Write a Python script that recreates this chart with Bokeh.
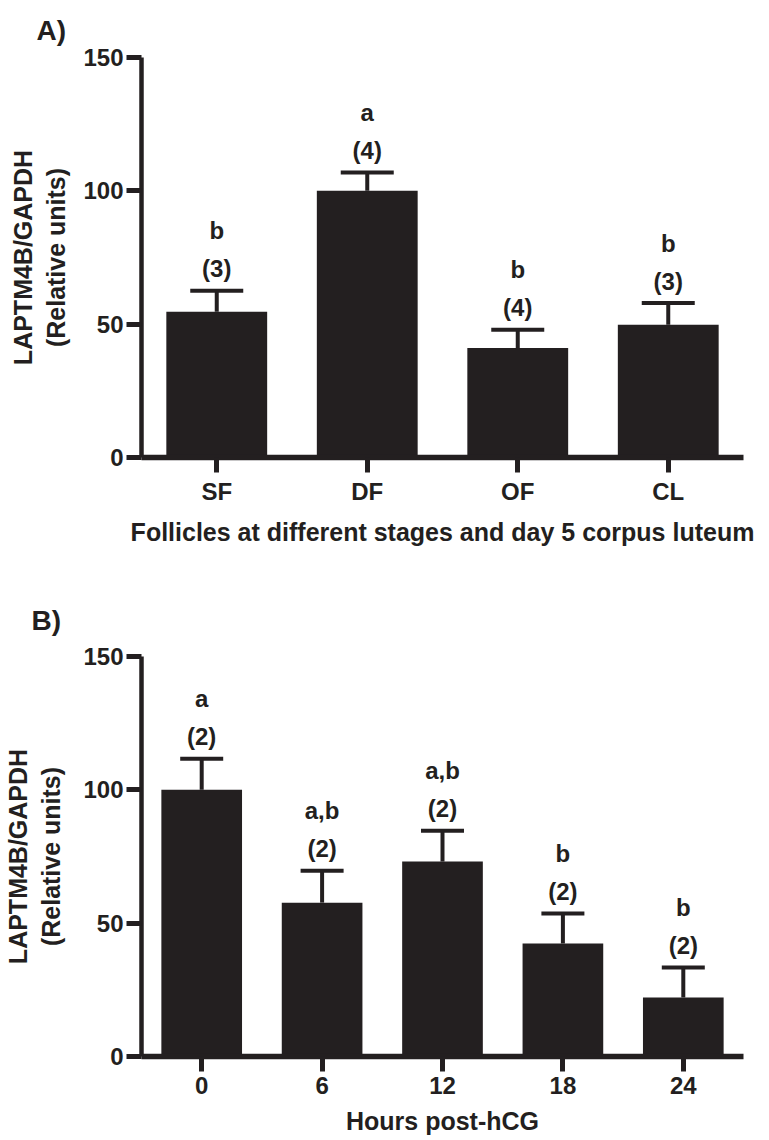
from bokeh.plotting import figure
from bokeh.models import ColumnDataSource, Range1d, FactorRange, Whisker, TeeHead, Title
from bokeh.layouts import column
from bokeh.core.properties import value
from bokeh.embed import file_html
from bokeh.resources import INLINE

INK = "#231f20"
FONT = "Liberation Sans"

# Panel A data
stages = ["SF", "DF", "OF", "CL"]
stage_mean = [54.7, 100.0, 41.1, 49.8]
stage_upper = [62.5, 106.9, 47.9, 57.9]
stage_n = ["(3)", "(4)", "(4)", "(3)"]
stage_sig = ["b", "a", "b", "b"]

# Panel B data
hours = ["0", "6", "12", "18", "24"]
hour_mean = [100.0, 57.7, 73.1, 42.4, 22.1]
hour_upper = [111.7, 69.7, 84.7, 53.6, 33.4]
hour_n = ["(2)", "(2)", "(2)", "(2)", "(2)"]
hour_sig = ["a", "a,b", "a,b", "b", "b"]

y_ticks = [0, 50, 100, 150]
y_label = "LAPTM4B/GAPDH\n(Relative units)"


def make_panel(cats, means, uppers, ns, sigs, xlabel, tag, right, top, bottom,
               cap, ylab_standoff, tag_offset, tag_standoff):
    src = ColumnDataSource(dict(x=cats, top=means, upper=uppers, n=ns, sig=sigs))
    p = figure(x_range=FactorRange(*cats), y_range=Range1d(0, 150),
               frame_width=602, frame_height=400,
               min_border_left=20, min_border_right=right,
               min_border_top=top, min_border_bottom=bottom,
               output_backend="svg", toolbar_location=None)
    p.vbar(x="x", top="top", width=0.67, source=src, fill_color=INK, line_color=None)
    w = Whisker(source=src, base="x", lower="top", upper="upper",
                line_color=INK, line_width=4, lower_head=None,
                upper_head=TeeHead(size=cap, line_color=INK, line_width=4))
    p.add_layout(w)
    common = dict(text_font=value(FONT), text_font_style="bold", text_font_size="24px",
                  text_color=INK, text_align="center", text_baseline="alphabetic")
    p.text(x="x", y="upper", text="n", source=src, y_offset=-22, **common)
    p.text(x="x", y="upper", text="sig", source=src, y_offset=-60, **common)

    p.xgrid.grid_line_color = None
    p.ygrid.grid_line_color = None
    p.outline_line_color = None
    p.background_fill_color = "white"

    for ax in (p.xaxis, p.yaxis):
        ax.axis_line_color = INK
        ax.major_tick_line_color = INK
        ax.major_tick_line_width = 5
        ax.major_tick_in = 0
        ax.major_tick_out = 15
        ax.minor_tick_line_color = None
        ax.major_label_text_font = FONT
        ax.major_label_text_font_style = "bold"
        ax.major_label_text_font_size = "24px"
        ax.major_label_text_color = INK
        ax.axis_label_text_font = FONT
        ax.axis_label_text_font_style = "bold"
        ax.axis_label_text_font_size = "25px"
        ax.axis_label_text_color = INK
    p.xaxis.axis_line_width = 5.5
    p.yaxis.axis_line_width = 4.5
    p.yaxis.ticker = y_ticks
    p.yaxis.major_label_standoff = 3
    p.xaxis.major_label_standoff = 5
    p.xaxis.axis_label = xlabel
    p.yaxis.axis_label = y_label
    p.yaxis.axis_label_standoff = ylab_standoff
    p.xaxis.axis_label_standoff = 10

    p.add_layout(Title(text=tag, align="left", offset=tag_offset, standoff=tag_standoff,
                       text_font=FONT, text_font_style="bold", text_font_size="28px",
                       text_color=INK, vertical_align="bottom"), "above")
    return p


pA = make_panel(stages, stage_mean, stage_upper, stage_n, stage_sig,
                "Follicles at different stages and day 5 corpus luteum", "A)",
                right=19, top=57, bottom=103, cap=53, ylab_standoff=10,
                tag_offset=-105, tag_standoff=24)
pB = make_panel(hours, hour_mean, hour_upper, hour_n, hour_sig,
                "Hours post-hCG", "B)",
                right=14, top=96, bottom=76, cap=43, ylab_standoff=15,
                tag_offset=-110, tag_standoff=42)

layout = column(pA, pB, spacing=0)
open("out.html", "w").write(file_html(layout, INLINE))
